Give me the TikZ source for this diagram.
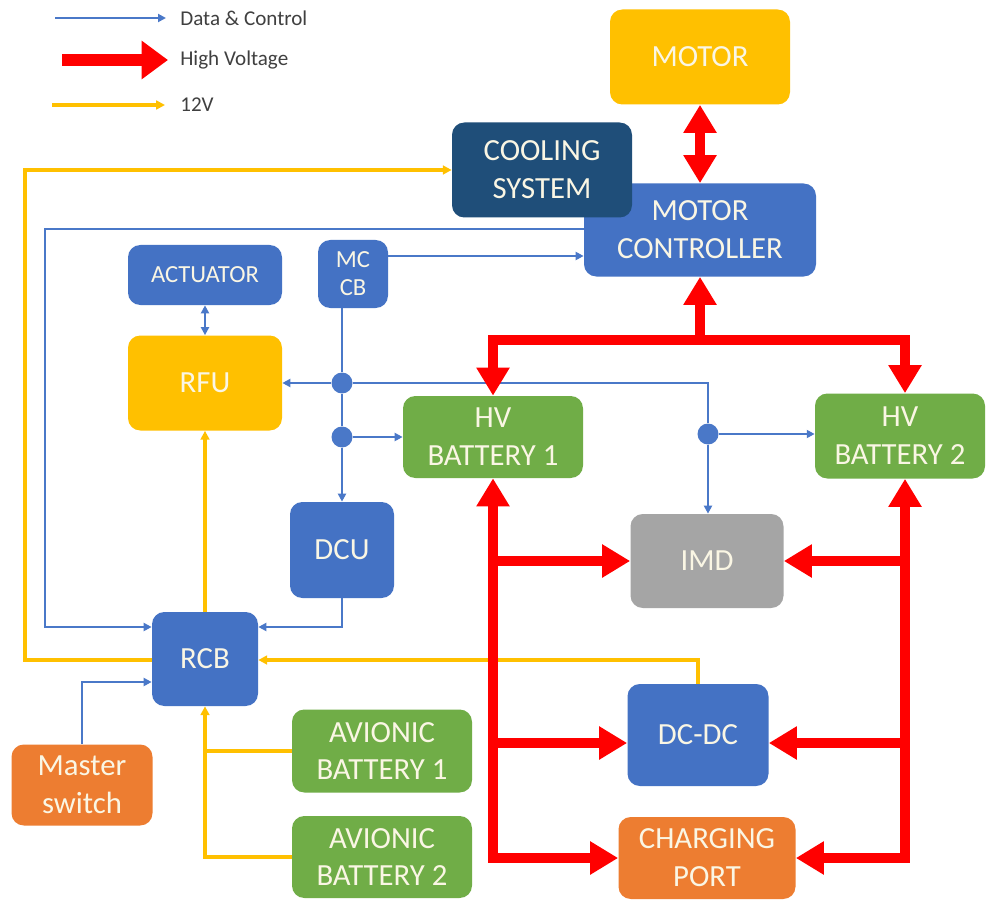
\documentclass[tikz,border=0pt]{standalone}
\usepackage{fontspec}
\setmainfont{Carlito}
\usetikzlibrary{arrows.meta}
\definecolor{cblue}{HTML}{4472C4}
\definecolor{cnavy}{HTML}{1F4E79}
\definecolor{cgreen}{HTML}{70AD47}
\definecolor{cyel}{HTML}{FFC000}
\definecolor{cgray}{HTML}{A5A5A5}
\definecolor{corange}{HTML}{ED7D31}
\definecolor{cred}{HTML}{FF0000}
\definecolor{ctext}{RGB}{250,246,228}
\definecolor{legtext}{HTML}{404040}
\definecolor{lblue}{HTML}{4A78C8}
\newcommand\bxfont{\fontsize{17.5}{21.5}\selectfont}
\newcommand\smbxfont{\fontsize{14}{16}\selectfont}
\newcommand\lgfont{\fontsize{12}{14}\selectfont}
\begin{document}
\begin{tikzpicture}[x=0.02cm,y=-0.02cm,
  box/.style n args={3}{fill=#1, rounded corners=7pt, minimum width=#2*0.02cm,
    minimum height=#3*0.02cm, inner sep=0pt, align=center, text=ctext, font=\bxfont},
  dot/.style={circle, fill=lblue, minimum size=0.42cm, inner sep=0pt},
  dline/.style={draw=lblue, line width=1.2pt},
  data/.style={dline, -{Triangle[length=4.5pt,width=4.5pt]}},
  vline/.style={draw=cyel, line width=1.9pt},
  v12/.style={vline, -{Triangle[length=5pt,width=5pt]}},
  hvline/.style={draw=cred, line width=5.7pt, line join=miter},
  hv/.style={hvline, -{Triangle[length=16pt,width=18pt]}},
  hvboth/.style={hvline, {Triangle[length=16pt,width=18pt]}-{Triangle[length=16pt,width=18pt]}},
  legtxt/.style={anchor=west, inner sep=0pt, text=legtext, font=\lgfont}
]
\fill[white] (0,0) rectangle (987,902);
\useasboundingbox (0,0) rectangle (987,902);

% ---------- nodes ----------
\node[box={cyel}{180}{95}] (motor) at (700,57) {MOTOR};
\node[box={cblue}{232}{93}] (mc) at (700,230) {MOTOR\\CONTROLLER};
\node[box={cnavy}{180}{95}] (cool) at (542,170) {COOLING\\SYSTEM};
\node[box={cblue}{154}{60}, font=\smbxfont] (act) at (205,275) {ACTUATOR};
\node[box={cblue}{70}{68}, font=\smbxfont] (mccb) at (353,274) {MC\\CB};
\node[box={cyel}{154}{95}] (rfu) at (205,383) {RFU};
\node[box={cgreen}{180}{82}] (hv1) at (493,437) {HV\\BATTERY 1};
\node[box={cgreen}{170}{85}] (hv2) at (900,436) {HV\\BATTERY 2};
\node[box={cblue}{104}{96}] (dcu) at (342,550) {DCU};
\node[box={cgray}{153}{94}] (imd) at (707,561) {IMD};
\node[box={cblue}{106}{94}] (rcb) at (205,659) {RCB};
\node[box={cblue}{141}{102}] (dcdc) at (698,735) {DC-DC};
\node[box={corange}{141}{81}] (master) at (82,785) {Master\\switch};
\node[box={cgreen}{180}{83}] (av1) at (382,751) {AVIONIC\\BATTERY 1};
\node[box={cgreen}{180}{82}] (av2) at (382,857) {AVIONIC\\BATTERY 2};
\node[box={corange}{177}{82}] (cp) at (707,858) {CHARGING\\PORT};

\node[dot] (j1) at (342,383) {};
\node[dot] (j2) at (342,437) {};
\node[dot] (j3) at (708,434) {};

% helper coordinates
\coordinate (h229) at (0,229);
\coordinate (h256) at (0,256);
\coordinate (h627) at (0,627);
\coordinate (h660) at (0,660);
\coordinate (h682) at (0,682);
\coordinate (h743) at (0,743);
\coordinate (bl) at (493,340);
\coordinate (br) at (905,340);
\coordinate (ll) at (493,858);
\coordinate (rr) at (905,858);

% ---------- legend ----------
\coordinate (la1) at (55,18);  \coordinate (lb1) at (166,18);
\coordinate (la2) at (62,60);  \coordinate (lb2) at (168,60);
\coordinate (la3) at (52,105); \coordinate (lb3) at (165,105);
\draw[data] (la1) -- (lb1);
\draw[draw=cred, line width=7.2pt, -{Triangle[length=15pt,width=21pt]}] (la2) -- (lb2);
\draw[v12] (la3) -- (lb3);
\node[legtxt] (lt1) at (180,18) {Data \& Control};
\node[legtxt] (lt2) at (180,60) {High Voltage};
\node[legtxt] (lt3) at (180,105) {12V};

% ---------- data & control ----------
\draw[data] (mccb.east |- h256) -- (mc.west |- h256);
\draw[data] (mc.west |- h229) -- (45,229) -- (45,627) -- (rcb.west |- h627);
\draw[dline] (mccb.south -| j1) -- (j1);
\draw[dline] (j1) -- (j2);
\draw[data] (j2) -- (dcu);
\draw[data] (j1) -- (rfu);
\draw[dline] (j1) -| (j3);
\draw[data] (j3) -- (imd.north -| j3);
\draw[data] (j3) -- (hv2.west |- j3);
\draw[data] (j2) -- (hv1.west |- j2);
\draw[data] (dcu.south) -- (dcu.south |- h627) -- (rcb.east |- h627);
\draw[data] (master.north) -- (master.north |- h682) -- (rcb.west |- h682);
\draw[dline, {Triangle[length=4.5pt,width=4.5pt]}-{Triangle[length=4.5pt,width=4.5pt]}] (act) -- (rfu);

% ---------- 12V ----------
\draw[v12] (rcb.west |- h660) -- (25,660) -- (25,170) -- (cool.west);
\draw[v12] (rcb) -- (rfu);
\draw[v12] (dcdc.north) -- (dcdc.north |- h660) -- (rcb.east |- h660);
\draw[v12] (av2.west) -- (av2.west -| rcb) -- (rcb.south);
\draw[vline] (av1.west) -- (av1.west -| rcb);

% ---------- high voltage ----------
\draw[hvboth] (motor) -- (mc);
\draw[hvboth] (hv1.north -| bl) -- (bl) -- (br) -- (hv2.north -| br);
\draw[hv] (mc.south |- bl) -- (mc.south);
\draw[hvboth] (hv1.south) -- (ll) -- (cp.west);
\draw[hv] (hv1.south |- imd) -- (imd.west);
\draw[hv] (hv1.south |- h743) -- (dcdc.west |- h743);
\draw[hvboth] (hv2.south -| rr) -- (rr) -- (cp.east);
\draw[hv] (rr |- imd) -- (imd.east);
\draw[hv] (rr |- h743) -- (dcdc.east |- h743);
\end{tikzpicture}
\end{document}
